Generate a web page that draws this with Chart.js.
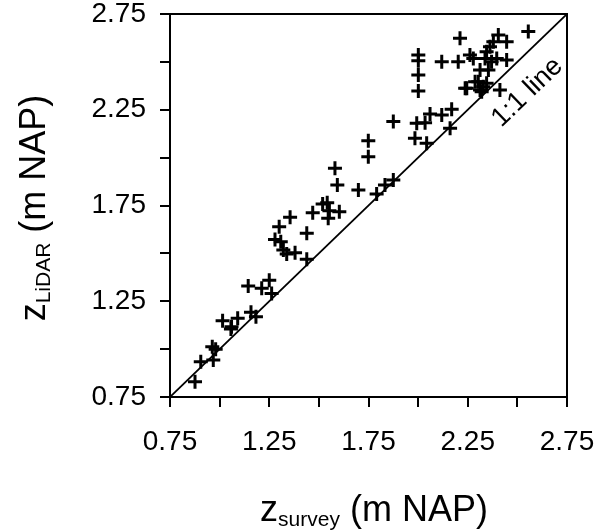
<!DOCTYPE html>
<html>
<head>
<meta charset="utf-8">
<script src="https://cdn.jsdelivr.net/npm/chart.js@4"></script>
<style>
  html, body { margin: 0; padding: 0; background: #fff; }
  #wrap { width: 608px; height: 531px; }
</style>
</head>
<body>
<div id="wrap"><canvas id="lidarChart" width="608" height="531"></canvas></div>
<script>
// survey height vs LiDAR height (m NAP)
const zSurvey = [
  0.876, 0.905, 0.963, 0.98, 0.968, 1.015, 1.06, 1.057, 1.091, 1.158,
  1.183, 1.144, 1.212, 1.25, 1.262, 1.279, 1.30, 1.355, 1.308, 1.321,
  1.338, 1.38, 1.439, 1.439, 1.469, 1.519, 1.542, 1.553, 1.547, 1.603,
  1.593, 1.699, 1.581, 1.749, 1.749, 1.791, 1.833, 1.875, 1.875, 1.993,
  2.035, 2.06, 2.119, 1.984, 2.043, 2.169, 2.161, 2.211, 2.001, 2.001,
  2.001, 2.001, 2.119, 2.202, 2.261, 2.245, 2.287, 2.312, 2.555, 2.404,
  2.446, 2.379, 2.362, 2.345, 2.278, 2.337, 2.396, 2.446, 2.37, 2.354,
  2.312, 2.303, 2.328, 2.345, 2.237, 2.32, 2.412
];
const zLidar = [
  0.83, 0.934, 1.013, 1.00, 0.943, 1.148, 1.117, 1.105, 1.161, 1.192,
  1.169, 1.33, 1.318, 1.36, 1.29, 1.573, 1.639, 1.688, 1.561, 1.518,
  1.497, 1.503, 1.469, 1.605, 1.712, 1.758, 1.765, 1.723, 1.683, 1.718,
  1.857, 1.831, 1.944, 2.088, 2.005, 1.81, 1.857, 1.883, 2.188, 2.179,
  2.182, 2.228, 2.223, 2.101, 2.075, 2.252, 2.153, 2.623, 2.536, 2.506,
  2.431, 2.348, 2.501, 2.501, 2.536, 2.362, 2.396, 2.353, 2.658, 2.64,
  2.605, 2.605, 2.579, 2.553, 2.518, 2.518, 2.518, 2.51, 2.501, 2.458,
  2.458, 2.396, 2.37, 2.388, 2.362, 2.344, 2.353
];
const oneToOne = [0.75, 2.75];
const tickLabels = ["0.75", "1.25", "1.75", "2.25", "2.75"];
const lineLabel = { text: "1:1 line", x: 2.55, y: 2.34 };

const points = zSurvey.map((x, i) => ({ x, y: zLidar[i] }));
const linePts = oneToOne.map(v => ({ x: v, y: v }));

const tickCb = v => {
  const s = Number(v).toFixed(2);
  return tickLabels.includes(s) ? s : "";
};

// frame, axis titles with subscripts, 1:1 label
const decor = {
  id: "decor",
  afterDraw(chart) {
    const { ctx, chartArea: a, scales } = chart;
    ctx.save();
    ctx.strokeStyle = "#000";
    ctx.lineWidth = 2;
    ctx.strokeRect(a.left, a.top, a.right - a.left, a.bottom - a.top);

    ctx.fillStyle = "#000";
    const big = "36px 'Liberation Sans', Arial, sans-serif";
    const small = "21px 'Liberation Sans', Arial, sans-serif";
    const drawTitle = (main, sub, rest) => {
      ctx.font = big;
      const w1 = ctx.measureText(main).width;
      const w3 = ctx.measureText(rest).width;
      ctx.font = small;
      const w2 = ctx.measureText(sub).width;
      let x = -(w1 + w2 + w3) / 2;
      ctx.textBaseline = "alphabetic";
      ctx.textAlign = "left";
      ctx.font = big;
      ctx.fillText(main, x, 0);
      x += w1;
      ctx.font = small;
      ctx.fillText(sub, x, 5);
      x += w2;
      ctx.font = big;
      ctx.fillText(rest, x, 0);
    };

    ctx.save();
    ctx.translate(374, 521);
    drawTitle("z", "survey", " (m NAP)");
    ctx.restore();

    ctx.save();
    ctx.translate(45, 208);
    ctx.rotate(-Math.PI / 2);
    drawTitle("z", "LiDAR", " (m NAP)");
    ctx.restore();

    const px = scales.x.getPixelForValue(lineLabel.x);
    const py = scales.y.getPixelForValue(lineLabel.y);
    const ang = Math.atan2(
      scales.y.getPixelForValue(0.75) - scales.y.getPixelForValue(2.75),
      scales.x.getPixelForValue(2.75) - scales.x.getPixelForValue(0.75)
    );
    ctx.translate(px, py);
    ctx.rotate(-ang);
    ctx.font = "27px 'Liberation Sans', Arial, sans-serif";
    ctx.textAlign = "center";
    ctx.textBaseline = "middle";
    ctx.fillText(lineLabel.text, 0, 0);
    ctx.restore();
  }
};

const axis = (isY) => ({
  type: "linear",
  min: 0.75,
  max: 2.75,
  border: { display: false },
  grid: {
    drawOnChartArea: false,
    drawTicks: true,
    tickLength: 10,
    color: "#000",
    lineWidth: 2
  },
  ticks: {
    stepSize: 0.25,
    autoSkip: false,
    maxRotation: 0,
    minRotation: 0,
    color: "#000",
    padding: isY ? 14 : 18,
    font: { family: "'Liberation Sans', Arial, sans-serif", size: 28 },
    callback: tickCb
  },
  afterFit(scale) {
    if (isY) scale.width = 170;
    else scale.height = 134;
    // labels may hang over the plot edges, like the original
    scale.paddingLeft = 0;
    scale.paddingRight = 0;
    scale.paddingTop = 0;
    scale.paddingBottom = 0;
  }
});

new Chart(document.getElementById("lidarChart").getContext("2d"), {
  type: "scatter",
  data: {
    datasets: [
      {
        label: "1:1",
        data: linePts,
        showLine: true,
        borderColor: "#000",
        borderWidth: 1.8,
        pointRadius: 0
      },
      {
        label: "points",
        data: points,
        pointStyle: "cross",
        pointRadius: 7,
        borderColor: "#000",
        borderWidth: 3
      }
    ]
  },
  options: {
    responsive: false,
    animation: false,
    layout: { padding: { top: 14, right: 41, left: 0, bottom: 0 } },
    plugins: {
      legend: { display: false },
      tooltip: { enabled: false }
    },
    scales: {
      x: axis(false),
      y: axis(true)
    }
  },
  plugins: [decor]
});
</script>
</body>
</html>
